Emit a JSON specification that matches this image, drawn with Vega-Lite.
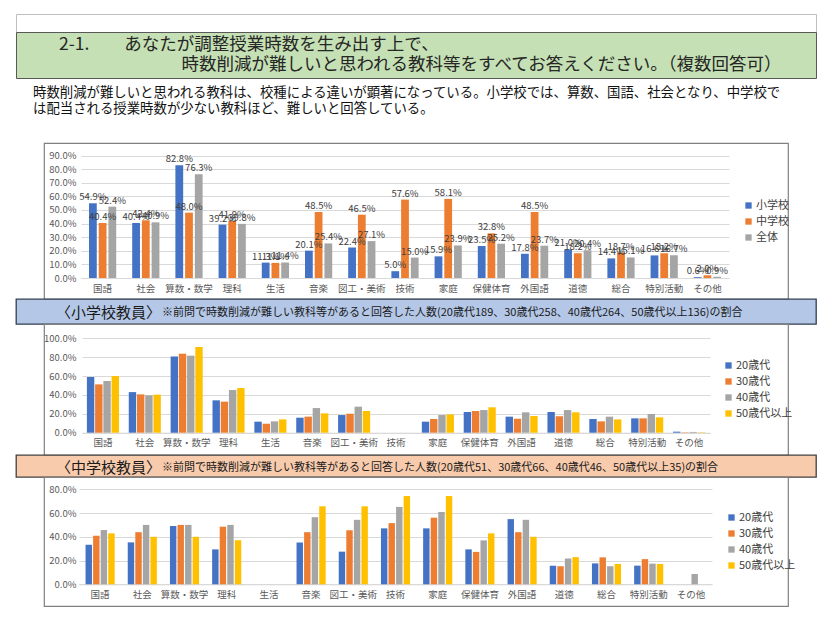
{
  "$schema": "https://vega.github.io/schema/vega-lite/v6.json",
  "padding": {"left": 15, "top": 13, "right": 0, "bottom": 0},
  "background": "white",
  "config": {
    "font": "Noto Sans CJK JP",
    "view": {"stroke": null},
    "axis": {"labelFont": "Noto Sans CJK JP", "labelColor": "#595959", "labelFontSize": 9.5, "ticks": false},
    "legend": {"symbolType": "square", "symbolSize": 40, "symbolStrokeWidth": 0, "labelFontSize": 11, "labelColor": "#404040", "rowPadding": 4, "labelOffset": 2, "padding": 0},
    "title": {"fontWeight": "normal", "anchor": "start", "frame": "group", "font": "Noto Sans CJK JP"}
  },
  "datasets": {
    "school": [
      {"subject": "国語", "group": "小学校", "pct": 0.549}, {"subject": "国語", "group": "中学校", "pct": 0.404}, {"subject": "国語", "group": "全体", "pct": 0.524},
      {"subject": "社会", "group": "小学校", "pct": 0.404}, {"subject": "社会", "group": "中学校", "pct": 0.424}, {"subject": "社会", "group": "全体", "pct": 0.409},
      {"subject": "算数・数学", "group": "小学校", "pct": 0.828}, {"subject": "算数・数学", "group": "中学校", "pct": 0.48}, {"subject": "算数・数学", "group": "全体", "pct": 0.763},
      {"subject": "理科", "group": "小学校", "pct": 0.392}, {"subject": "理科", "group": "中学校", "pct": 0.419}, {"subject": "理科", "group": "全体", "pct": 0.398},
      {"subject": "生活", "group": "小学校", "pct": 0.113}, {"subject": "生活", "group": "中学校", "pct": 0.111}, {"subject": "生活", "group": "全体", "pct": 0.114},
      {"subject": "音楽", "group": "小学校", "pct": 0.201}, {"subject": "音楽", "group": "中学校", "pct": 0.485}, {"subject": "音楽", "group": "全体", "pct": 0.254},
      {"subject": "図工・美術", "group": "小学校", "pct": 0.224}, {"subject": "図工・美術", "group": "中学校", "pct": 0.465}, {"subject": "図工・美術", "group": "全体", "pct": 0.271},
      {"subject": "技術", "group": "小学校", "pct": 0.05}, {"subject": "技術", "group": "中学校", "pct": 0.576}, {"subject": "技術", "group": "全体", "pct": 0.15},
      {"subject": "家庭", "group": "小学校", "pct": 0.159}, {"subject": "家庭", "group": "中学校", "pct": 0.581}, {"subject": "家庭", "group": "全体", "pct": 0.239},
      {"subject": "保健体育", "group": "小学校", "pct": 0.235}, {"subject": "保健体育", "group": "中学校", "pct": 0.328}, {"subject": "保健体育", "group": "全体", "pct": 0.252},
      {"subject": "外国語", "group": "小学校", "pct": 0.178}, {"subject": "外国語", "group": "中学校", "pct": 0.485}, {"subject": "外国語", "group": "全体", "pct": 0.237},
      {"subject": "道徳", "group": "小学校", "pct": 0.21}, {"subject": "道徳", "group": "中学校", "pct": 0.182}, {"subject": "道徳", "group": "全体", "pct": 0.204},
      {"subject": "総合", "group": "小学校", "pct": 0.144}, {"subject": "総合", "group": "中学校", "pct": 0.187}, {"subject": "総合", "group": "全体", "pct": 0.151},
      {"subject": "特別活動", "group": "小学校", "pct": 0.166}, {"subject": "特別活動", "group": "中学校", "pct": 0.182}, {"subject": "特別活動", "group": "全体", "pct": 0.167},
      {"subject": "その他", "group": "小学校", "pct": 0.006}, {"subject": "その他", "group": "中学校", "pct": 0.02}, {"subject": "その他", "group": "全体", "pct": 0.009}
    ],
    "elementary": [
      {"subject": "国語", "age": "20歳代", "pct": 0.59}, {"subject": "国語", "age": "30歳代", "pct": 0.512}, {"subject": "国語", "age": "40歳代", "pct": 0.548}, {"subject": "国語", "age": "50歳代以上", "pct": 0.6},
      {"subject": "社会", "age": "20歳代", "pct": 0.43}, {"subject": "社会", "age": "30歳代", "pct": 0.406}, {"subject": "社会", "age": "40歳代", "pct": 0.396}, {"subject": "社会", "age": "50歳代以上", "pct": 0.403},
      {"subject": "算数・数学", "age": "20歳代", "pct": 0.806}, {"subject": "算数・数学", "age": "30歳代", "pct": 0.837}, {"subject": "算数・数学", "age": "40歳代", "pct": 0.816}, {"subject": "算数・数学", "age": "50歳代以上", "pct": 0.908},
      {"subject": "理科", "age": "20歳代", "pct": 0.343}, {"subject": "理科", "age": "30歳代", "pct": 0.329}, {"subject": "理科", "age": "40歳代", "pct": 0.452}, {"subject": "理科", "age": "50歳代以上", "pct": 0.473},
      {"subject": "生活", "age": "20歳代", "pct": 0.117}, {"subject": "生活", "age": "30歳代", "pct": 0.095}, {"subject": "生活", "age": "40歳代", "pct": 0.12}, {"subject": "生活", "age": "50歳代以上", "pct": 0.141},
      {"subject": "音楽", "age": "20歳代", "pct": 0.159}, {"subject": "音楽", "age": "30歳代", "pct": 0.17}, {"subject": "音楽", "age": "40歳代", "pct": 0.261}, {"subject": "音楽", "age": "50歳代以上", "pct": 0.205},
      {"subject": "図工・美術", "age": "20歳代", "pct": 0.187}, {"subject": "図工・美術", "age": "30歳代", "pct": 0.201}, {"subject": "図工・美術", "age": "40歳代", "pct": 0.276}, {"subject": "図工・美術", "age": "50歳代以上", "pct": 0.23},
      {"subject": "家庭", "age": "20歳代", "pct": 0.117}, {"subject": "家庭", "age": "30歳代", "pct": 0.145}, {"subject": "家庭", "age": "40歳代", "pct": 0.187}, {"subject": "家庭", "age": "50歳代以上", "pct": 0.194},
      {"subject": "保健体育", "age": "20歳代", "pct": 0.219}, {"subject": "保健体育", "age": "30歳代", "pct": 0.23}, {"subject": "保健体育", "age": "40歳代", "pct": 0.24}, {"subject": "保健体育", "age": "50歳代以上", "pct": 0.269},
      {"subject": "外国語", "age": "20歳代", "pct": 0.17}, {"subject": "外国語", "age": "30歳代", "pct": 0.148}, {"subject": "外国語", "age": "40歳代", "pct": 0.216}, {"subject": "外国語", "age": "50歳代以上", "pct": 0.177},
      {"subject": "道徳", "age": "20歳代", "pct": 0.219}, {"subject": "道徳", "age": "30歳代", "pct": 0.173}, {"subject": "道徳", "age": "40歳代", "pct": 0.24}, {"subject": "道徳", "age": "50歳代以上", "pct": 0.216},
      {"subject": "総合", "age": "20歳代", "pct": 0.145}, {"subject": "総合", "age": "30歳代", "pct": 0.12}, {"subject": "総合", "age": "40歳代", "pct": 0.17}, {"subject": "総合", "age": "50歳代以上", "pct": 0.141},
      {"subject": "特別活動", "age": "20歳代", "pct": 0.152}, {"subject": "特別活動", "age": "30歳代", "pct": 0.152}, {"subject": "特別活動", "age": "40歳代", "pct": 0.198}, {"subject": "特別活動", "age": "50歳代以上", "pct": 0.163},
      {"subject": "その他", "age": "20歳代", "pct": 0.011}, {"subject": "その他", "age": "30歳代", "pct": 0.004}, {"subject": "その他", "age": "40歳代", "pct": 0.008}, {"subject": "その他", "age": "50歳代以上", "pct": 0.004}
    ],
    "junior": [
      {"subject": "国語", "age": "20歳代", "pct": 0.333}, {"subject": "国語", "age": "30歳代", "pct": 0.409}, {"subject": "国語", "age": "40歳代", "pct": 0.457}, {"subject": "国語", "age": "50歳代以上", "pct": 0.429},
      {"subject": "社会", "age": "20歳代", "pct": 0.353}, {"subject": "社会", "age": "30歳代", "pct": 0.439}, {"subject": "社会", "age": "40歳代", "pct": 0.5}, {"subject": "社会", "age": "50歳代以上", "pct": 0.4},
      {"subject": "算数・数学", "age": "20歳代", "pct": 0.49}, {"subject": "算数・数学", "age": "30歳代", "pct": 0.5}, {"subject": "算数・数学", "age": "40歳代", "pct": 0.5}, {"subject": "算数・数学", "age": "50歳代以上", "pct": 0.4},
      {"subject": "理科", "age": "20歳代", "pct": 0.294}, {"subject": "理科", "age": "30歳代", "pct": 0.485}, {"subject": "理科", "age": "40歳代", "pct": 0.5}, {"subject": "理科", "age": "50歳代以上", "pct": 0.371},
      {"subject": "音楽", "age": "20歳代", "pct": 0.353}, {"subject": "音楽", "age": "30歳代", "pct": 0.439}, {"subject": "音楽", "age": "40歳代", "pct": 0.565}, {"subject": "音楽", "age": "50歳代以上", "pct": 0.657},
      {"subject": "図工・美術", "age": "20歳代", "pct": 0.275}, {"subject": "図工・美術", "age": "30歳代", "pct": 0.455}, {"subject": "図工・美術", "age": "40歳代", "pct": 0.543}, {"subject": "図工・美術", "age": "50歳代以上", "pct": 0.657},
      {"subject": "技術", "age": "20歳代", "pct": 0.471}, {"subject": "技術", "age": "30歳代", "pct": 0.515}, {"subject": "技術", "age": "40歳代", "pct": 0.652}, {"subject": "技術", "age": "50歳代以上", "pct": 0.743},
      {"subject": "家庭", "age": "20歳代", "pct": 0.471}, {"subject": "家庭", "age": "30歳代", "pct": 0.561}, {"subject": "家庭", "age": "40歳代", "pct": 0.609}, {"subject": "家庭", "age": "50歳代以上", "pct": 0.743},
      {"subject": "保健体育", "age": "20歳代", "pct": 0.294}, {"subject": "保健体育", "age": "30歳代", "pct": 0.273}, {"subject": "保健体育", "age": "40歳代", "pct": 0.37}, {"subject": "保健体育", "age": "50歳代以上", "pct": 0.429},
      {"subject": "外国語", "age": "20歳代", "pct": 0.549}, {"subject": "外国語", "age": "30歳代", "pct": 0.439}, {"subject": "外国語", "age": "40歳代", "pct": 0.543}, {"subject": "外国語", "age": "50歳代以上", "pct": 0.4},
      {"subject": "道徳", "age": "20歳代", "pct": 0.157}, {"subject": "道徳", "age": "30歳代", "pct": 0.152}, {"subject": "道徳", "age": "40歳代", "pct": 0.217}, {"subject": "道徳", "age": "50歳代以上", "pct": 0.229},
      {"subject": "総合", "age": "20歳代", "pct": 0.176}, {"subject": "総合", "age": "30歳代", "pct": 0.227}, {"subject": "総合", "age": "40歳代", "pct": 0.152}, {"subject": "総合", "age": "50歳代以上", "pct": 0.171},
      {"subject": "特別活動", "age": "20歳代", "pct": 0.157}, {"subject": "特別活動", "age": "30歳代", "pct": 0.212}, {"subject": "特別活動", "age": "40歳代", "pct": 0.174}, {"subject": "特別活動", "age": "50歳代以上", "pct": 0.171},
      {"subject": "その他", "age": "40歳代", "pct": 0.087}
    ]
  },
  "bounds": "flush",
  "center": true,
  "spacing": 0,
  "resolve": {"scale": {"color": "independent", "x": "independent", "y": "independent", "xOffset": "independent"}, "legend": {"color": "independent"}},
  "vconcat": [
    {"width": 800, "height": 18, "data": {"values": []}, "mark": "point", "view": {"stroke": "#bfbfbf"}},
    {
      "width": 800, "height": 46, "data": {"values": []}, "mark": "point",
      "view": {"fill": "#c5e0b4", "stroke": "#595959"},
      "title": {
        "text": ["2-1.　　あなたが調整授業時数を生み出す上で、", "\u200b　　　　　　　時数削減が難しいと思われる教科等をすべてお答えください。（複数回答可）"],
        "fontSize": 17.5, "lineHeight": 20, "color": "#262626", "dx": 43, "offset": -41
      }
    },
    {
      "width": 744, "height": 65, "data": {"values": []}, "mark": "point",
      "title": {
        "text": ["時数削減が難しいと思われる教科は、校種による違いが顕著になっている。小学校では、算数、国語、社会となり、中学校で", "は配当される授業時数が少ない教科ほど、難しいと回答している。"],
        "fontSize": 13.4, "lineHeight": 15.5, "color": "#111111", "dx": -11, "offset": -37
      }
    },
    {
      "width": 744, "height": 156,
      "data": {"name": "school"},
      "view": {"stroke": "#808080", "strokeWidth": 1.2},
      "encoding": {
        "x": {"field": "subject", "type": "nominal",
          "scale": {"domain": ["国語", "社会", "算数・数学", "理科", "生活", "音楽", "図工・美術", "技術", "家庭", "保健体育", "外国語", "道徳", "総合", "特別活動", "その他"], "range": [37, 685], "paddingInner": 0.37, "paddingOuter": 0.185},
          "axis": {"title": null, "offset": -21, "labelAngle": 0, "domainColor": "#d9d9d9", "labelPadding": 5, "grid": false}},
        "xOffset": {"field": "group", "type": "nominal", "scale": {"domain": ["小学校", "中学校", "全体"], "paddingInner": 0.2}},
        "y": {"field": "pct", "type": "quantitative",
          "scale": {"domain": [0, 0.9], "range": [135, 12.5], "nice": false},
          "axis": {"title": null, "values": [0, 0.1, 0.2, 0.3, 0.4, 0.5, 0.6, 0.7, 0.8, 0.9], "format": ".1%", "offset": -37, "domain": false, "labelPadding": 5, "gridColor": "#d9d9d9"}}
      },
      "layer": [
        {"mark": {"type": "bar"},
         "encoding": {"color": {"field": "group", "type": "nominal", "scale": {"domain": ["小学校", "中学校", "全体"], "range": ["#4472c4", "#ed7d31", "#a5a5a5"]},
           "legend": {"title": null, "orient": "none", "legendX": 699, "legendY": 57}}}},
        {"mark": {"type": "text", "baseline": "bottom", "dy": -1, "fontSize": 9.5, "color": "#404040"},
         "encoding": {"text": {"field": "pct", "type": "quantitative", "format": ".1%"}}}
      ]
    },
    {
      "width": 800, "height": 25, "data": {"values": []}, "mark": "point",
      "view": {"fill": "#b4c7e7", "stroke": "#333f50", "strokeWidth": 1.3},
      "title": {"text": "〈小学校教員〉", "fontSize": 15, "color": "#1a1a1a", "dx": 40, "offset": -22}
    },
    {
      "width": 744, "height": 131,
      "data": {"name": "elementary"},
      "view": {"stroke": "#808080", "strokeWidth": 1.2},
      "title": {"text": "※前問で時数削減が難しい教科等があると回答した人数(20歳代189、30歳代258、40歳代264、50歳代以上136)の割合", "fontSize": 11, "color": "#1a1a1a", "dx": 118, "offset": 6},
      "mark": {"type": "bar"},
      "encoding": {
        "x": {"field": "subject", "type": "nominal",
          "scale": {"domain": ["国語", "社会", "算数・数学", "理科", "生活", "音楽", "図工・美術", "技術", "家庭", "保健体育", "外国語", "道徳", "総合", "特別活動", "その他"], "range": [38, 666], "paddingInner": 0.234, "paddingOuter": 0.117},
          "axis": {"title": null, "offset": -22.3, "labelAngle": 0, "domainColor": "#d9d9d9", "labelPadding": 5, "grid": false}},
        "xOffset": {"field": "age", "type": "nominal", "scale": {"domain": ["20歳代", "30歳代", "40歳代", "50歳代以上"], "paddingInner": 0.1}},
        "y": {"field": "pct", "type": "quantitative",
          "scale": {"domain": [0, 1], "range": [108.7, 14.3], "nice": false},
          "axis": {"title": null, "values": [0, 0.2, 0.4, 0.6, 0.8, 1], "format": ".1%", "offset": -37, "domain": false, "labelPadding": 5, "gridColor": "#d9d9d9"}},
        "color": {"field": "age", "type": "nominal", "scale": {"domain": ["20歳代", "30歳代", "40歳代", "50歳代以上"], "range": ["#4472c4", "#ed7d31", "#a5a5a5", "#ffc000"]},
          "legend": {"title": null, "orient": "none", "legendX": 679, "legendY": 36}}
      }
    },
    {
      "width": 800, "height": 22, "data": {"values": []}, "mark": "point",
      "view": {"fill": "#f8cbad", "stroke": "#404040", "strokeWidth": 1.3},
      "title": {"text": "〈中学校教員〉", "fontSize": 15, "color": "#1a1a1a", "dx": 40, "offset": -21}
    },
    {
      "width": 744, "height": 129,
      "data": {"name": "junior"},
      "view": {"stroke": "#808080", "strokeWidth": 1.2},
      "title": {"text": "※前問で時数削減が難しい教科等があると回答した人数(20歳代51、30歳代66、40歳代46、50歳代以上35)の割合", "fontSize": 11, "color": "#1a1a1a", "dx": 118, "offset": 4},
      "mark": {"type": "bar"},
      "encoding": {
        "x": {"field": "subject", "type": "nominal",
          "scale": {"domain": ["国語", "社会", "算数・数学", "理科", "生活", "音楽", "図工・美術", "技術", "家庭", "保健体育", "外国語", "道徳", "総合", "特別活動", "その他"], "range": [35, 668], "paddingInner": 0.31, "paddingOuter": 0.155},
          "axis": {"title": null, "offset": -21.7, "labelAngle": 0, "domainColor": "#d9d9d9", "labelPadding": 5, "grid": false}},
        "xOffset": {"field": "age", "type": "nominal", "scale": {"domain": ["20歳代", "30歳代", "40歳代", "50歳代以上"], "paddingInner": 0.15}},
        "y": {"field": "pct", "type": "quantitative",
          "scale": {"domain": [0, 0.8], "range": [107.3, 12.3], "nice": false},
          "axis": {"title": null, "values": [0, 0.2, 0.4, 0.6, 0.8], "format": ".1%", "offset": -37, "domain": false, "labelPadding": 5, "gridColor": "#d9d9d9"}},
        "color": {"field": "age", "type": "nominal", "scale": {"domain": ["20歳代", "30歳代", "40歳代", "50歳代以上"], "range": ["#4472c4", "#ed7d31", "#a5a5a5", "#ffc000"]},
          "legend": {"title": null, "orient": "none", "legendX": 682, "legendY": 35}}
      }
    }
  ]
}
